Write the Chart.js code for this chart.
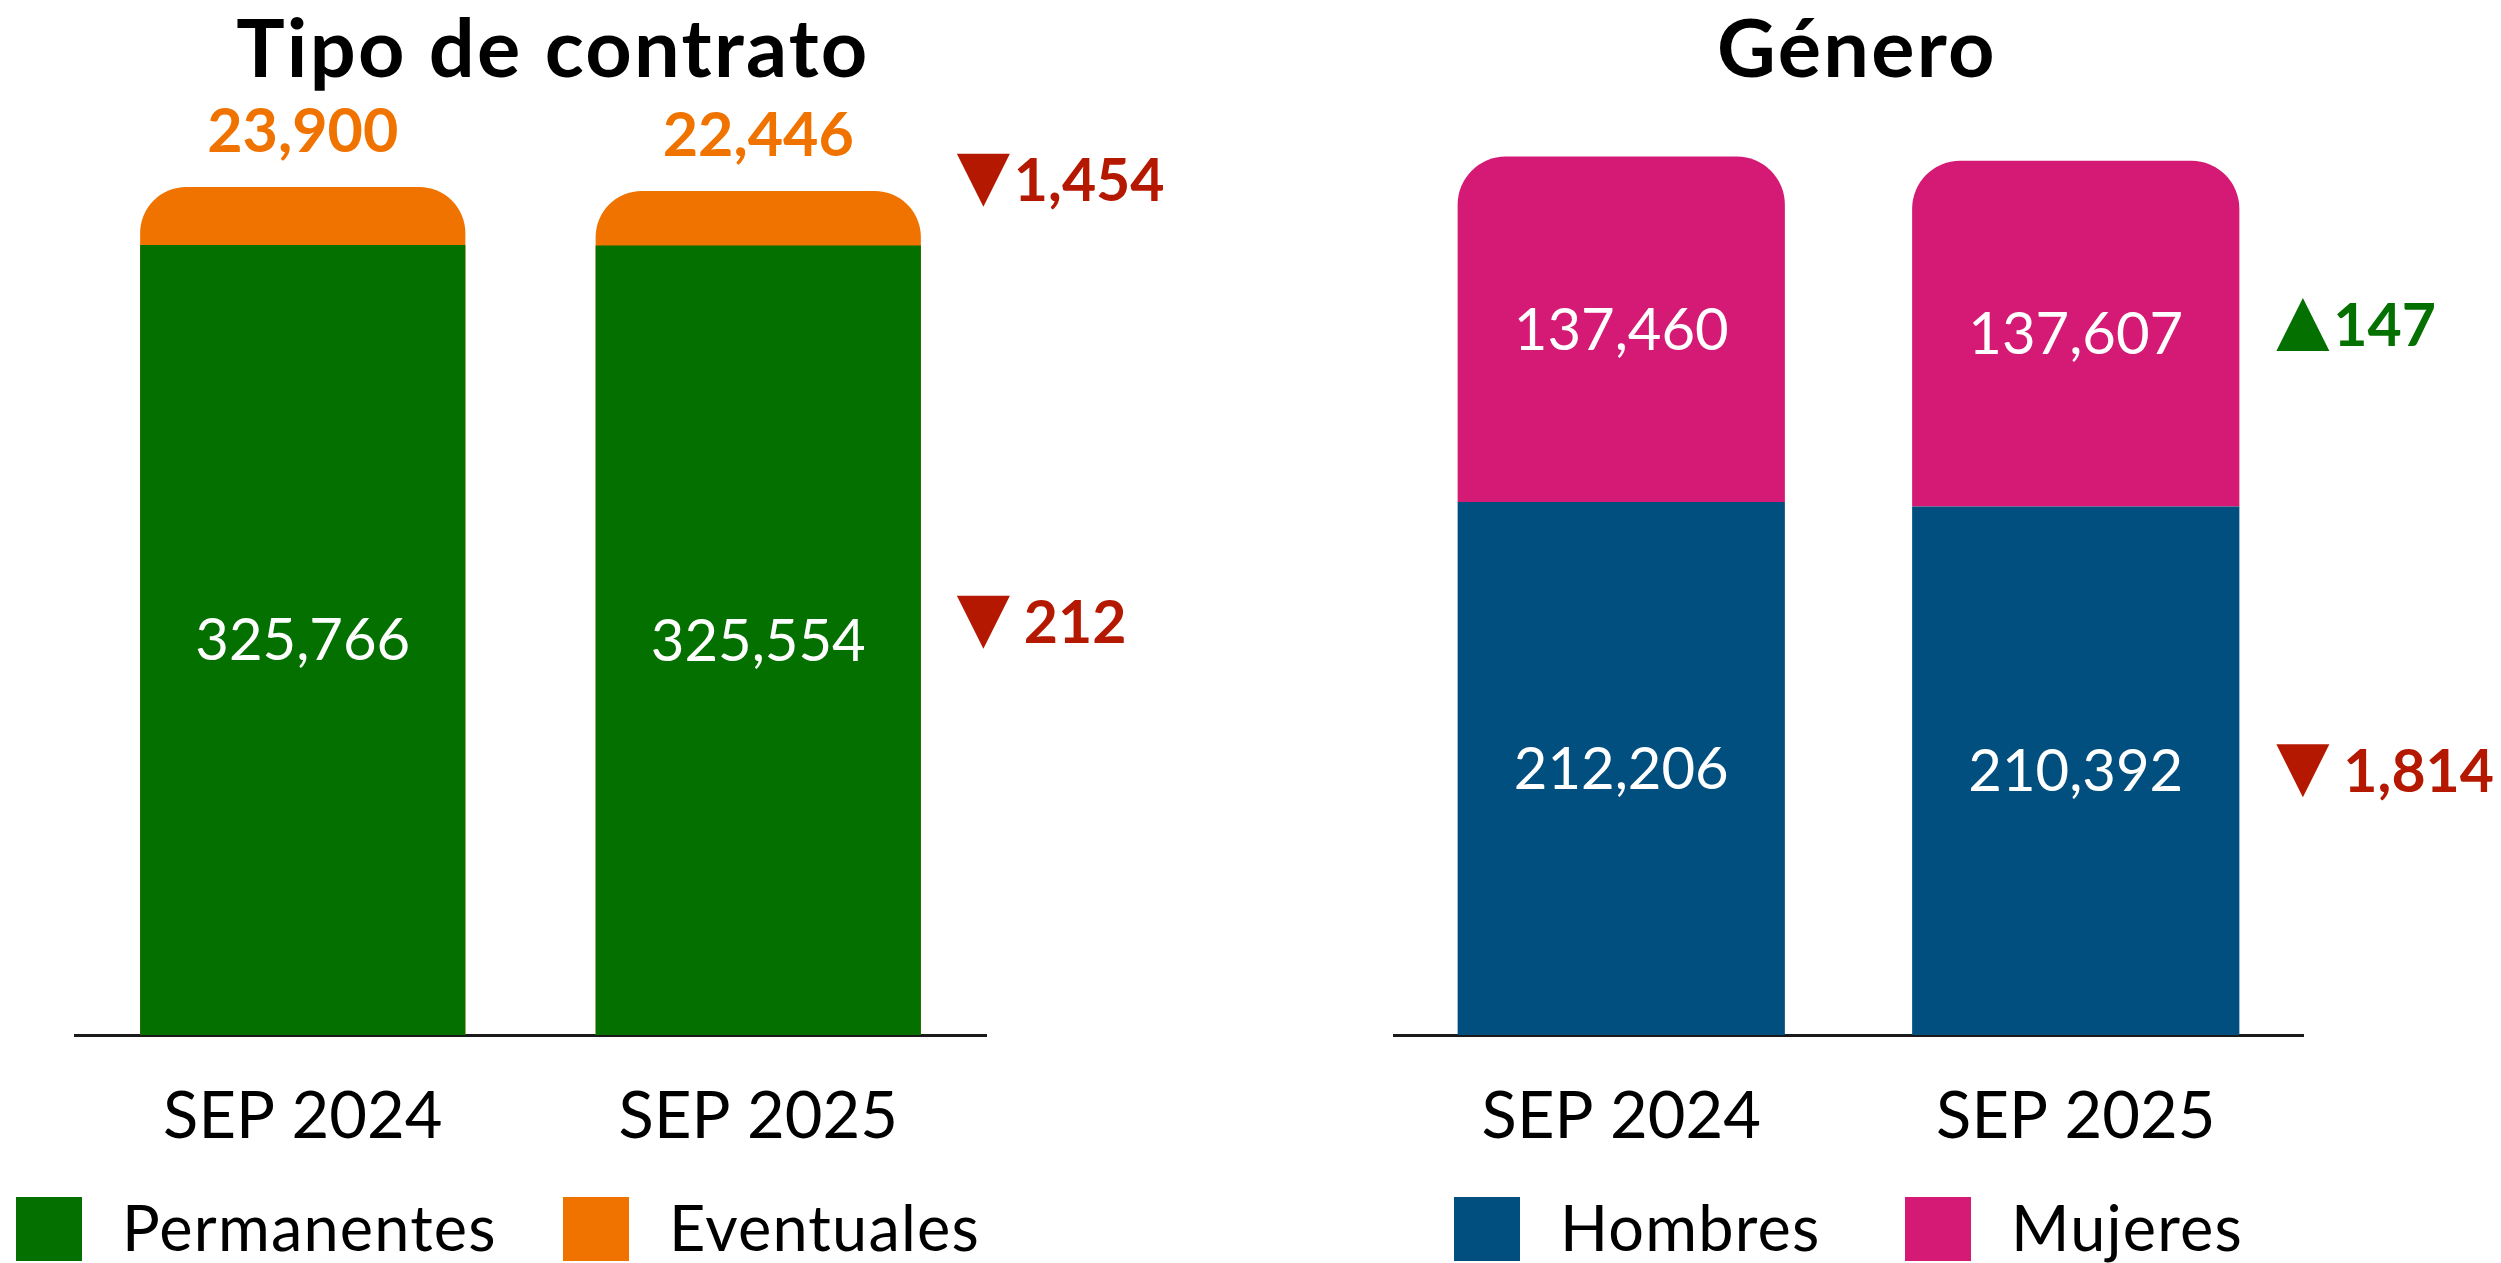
<!DOCTYPE html>
<html>
<head>
<meta charset="utf-8">
<script src="https://cdn.jsdelivr.net/npm/chart.js@4.4.1/dist/chart.umd.min.js"></script>
<style>
html,body{margin:0;padding:0;background:#fff;}
#wrap{position:relative;width:2501px;height:1263px;overflow:hidden;background:#fff;}
#wrap canvas{position:absolute;top:0;}
</style>
</head>
<body>
<div id="wrap">
<canvas id="c1" width="1250" height="1263" style="left:0;width:1250px;height:1263px"></canvas>
<canvas id="c2" width="1251" height="1263" style="left:1250px;width:1251px;height:1263px"></canvas>
</div>
<script>
// ---- data ----
const categories = ['SEP 2024', 'SEP 2025'];
const contractTitle = 'Tipo de contrato';
const genderTitle = 'Género';
const contractSeries = ['Permanentes', 'Eventuales'];
const genderSeries = ['Hombres', 'Mujeres'];
const permanentes = [325766, 325554];
const eventuales = [23900, 22446];
const hombres = [212206, 210392];
const mujeres = [137460, 137607];
const contractChanges = [-212, -1454];   // Permanentes, Eventuales
const genderChanges = [-1814, 147];      // Hombres, Mujeres
const contractAxisMax = 426800;
const genderAxisMax = 412000;

// ---- colours ----
const GREEN = '#037000', ORANGE = '#F07300', BLUE = '#004F7F', PINK = '#D41A74';
const DOWN = '#B51800', UP = '#037000';
const FONT = 'Lato, "Noto Sans", sans-serif';
const fmt = v => Math.abs(v).toLocaleString('en-US');

const annotate = {
  id: 'annotate',
  afterDraw(chart, args, o) {
    const ctx = chart.ctx;
    ctx.save();
    // title
    ctx.fillStyle = '#000';
    ctx.font = `bold ${o.titleSize}px ${FONT}`;
    ctx.textAlign = 'center';
    ctx.textBaseline = 'alphabetic';
    if ('letterSpacing' in ctx) ctx.letterSpacing = o.titleSpacing + 'px';
    ctx.fillText(o.title, o.titleX, o.titleY);
    if ('letterSpacing' in ctx) ctx.letterSpacing = '0px';

    // segments (bottom to top)
    const n = chart.data.labels.length;
    for (let j = 0; j < n; j++) {
      let prevTop = null;
      o.series.forEach((vals, k) => {
        const el = chart.getDatasetMeta(k).data[j];
        const top = el.y;
        const bottom = prevTop === null ? el.base : prevTop;
        prevTop = top;
        const mid = (top + bottom) / 2;
        const st = o.labelStyles[k];
        ctx.textAlign = 'center';
        ctx.textBaseline = 'alphabetic';
        ctx.font = `${st.weight} ${st.size}px ${FONT}`;
        ctx.fillStyle = st.color;
        if (st.pos === 'inside') {
          ctx.fillText(fmt(vals[j]), el.x, mid + st.size * 0.35);
        } else {
          ctx.fillText(fmt(vals[j]), el.x, top - st.gap);
        }
        // change markers next to last bar
        if (j === n - 1) {
          const d = o.changes[k];
          const cy = mid + o.changeOffsets[k];
          const tx = el.x + el.width / 2 + o.triGap;
          const w = o.triW, h = o.triH;
          const col = d < 0 ? DOWN : UP;
          ctx.fillStyle = col;
          ctx.beginPath();
          if (d < 0) {
            ctx.moveTo(tx, cy - h / 2); ctx.lineTo(tx + w, cy - h / 2); ctx.lineTo(tx + w / 2, cy + h / 2);
          } else {
            ctx.moveTo(tx + w / 2, cy - h / 2); ctx.lineTo(tx + w, cy + h / 2); ctx.lineTo(tx, cy + h / 2);
          }
          ctx.closePath();
          ctx.fill();
          ctx.font = `bold ${o.changeSize}px ${FONT}`;
          ctx.textAlign = 'left';
          ctx.fillText(fmt(d), tx + w + o.changeTextGaps[k], cy + o.changeSize * 0.355);
        }
      });
    }

    // legend
    ctx.textAlign = 'left';
    ctx.textBaseline = 'alphabetic';
    ctx.font = `${o.legendSize}px ${FONT}`;
    if ('letterSpacing' in ctx) ctx.letterSpacing = o.legendSpacing + 'px';
    o.legendNames.forEach((name, i) => {
      const x = o.legendX[i];
      ctx.fillStyle = chart.data.datasets[i].backgroundColor;
      ctx.fillRect(x, o.legendBoxY, o.legendBox, o.legendBoxH);
      ctx.fillStyle = '#000';
      ctx.fillText(name, x + o.legendBox + o.legendTextGap, o.legendBaseline);
    });
    if ('letterSpacing' in ctx) ctx.letterSpacing = '0px';
    ctx.restore();
  }
};

function baseOptions(padL, padR, yMax, barPct, ann) {
  return {
    responsive: false,
    animation: false,
    devicePixelRatio: 1,
    layout: { padding: { left: padL, right: padR, top: 0, bottom: 0 } },
    plugins: { legend: { display: false }, tooltip: { enabled: false }, annotate: ann },
    datasets: { bar: { barPercentage: barPct, categoryPercentage: 1 } },
    scales: {
      x: {
        stacked: true,
        grid: { display: false, drawTicks: false },
        border: { display: true, color: '#1a1a1a', width: 3 },
        ticks: { color: '#000', font: { family: FONT, size: 65 }, padding: 43, maxRotation: 0, autoSkip: false },
        afterFit(scale) { scale.height = 228; }
      },
      y: { display: false, stacked: true, min: 0, max: yMax }
    }
  };
}

// ---- Tipo de contrato ----
const contractTotals = permanentes.map((v, i) => v + eventuales[i]);
new Chart(document.getElementById('c1'), {
  type: 'bar',
  plugins: [annotate],
  data: {
    labels: categories,
    datasets: [
      { label: contractSeries[0], data: permanentes, backgroundColor: GREEN, borderWidth: 0, grouped: false },
      { label: contractSeries[1], data: contractTotals, backgroundColor: ORANGE, borderWidth: 0, grouped: false,
        borderRadius: { topLeft: 46, topRight: 46, bottomLeft: 0, bottomRight: 0 }, borderSkipped: 'bottom' }
    ]
  },
  options: (() => {
    const opt = baseOptions(75, 264, contractAxisMax, 0.714, {
      title: contractTitle, titleX: 553, titleY: 77, titleSize: 81, titleSpacing: 2.3,
      series: [permanentes, eventuales],
      labelStyles: [
        { pos: 'inside', color: '#fff', size: 58, weight: 'normal' },
        { pos: 'above', color: ORANGE, size: 61, weight: 'bold', gap: 35 }
      ],
      changes: contractChanges, changeOffsets: [-18, -38], changeTextGaps: [14, 4],
      triGap: 36, triW: 53, triH: 53, changeSize: 59,
      legendNames: contractSeries, legendX: [16, 563], legendBoxY: 1197, legendBox: 66, legendBoxH: 64,
      legendTextGap: 40, legendSize: 63, legendSpacing: 1.2, legendBaseline: 1251
    });
    opt.scales.y.stacked = false;
    return opt;
  })()
});

// ---- Género ----
new Chart(document.getElementById('c2'), {
  type: 'bar',
  plugins: [annotate],
  data: {
    labels: categories,
    datasets: [
      { label: genderSeries[0], data: hombres, backgroundColor: BLUE, borderWidth: 0 },
      { label: genderSeries[1], data: mujeres, backgroundColor: PINK, borderWidth: 0,
        borderRadius: { topLeft: 48, topRight: 48, bottomLeft: 0, bottomRight: 0 }, borderSkipped: 'bottom' }
    ]
  },
  options: baseOptions(144, 198, genderAxisMax, 0.72, {
    title: genderTitle, titleX: 607, titleY: 77, titleSize: 81, titleSpacing: 2.3,
    series: [hombres, mujeres],
    labelStyles: [
      { pos: 'inside', color: '#fff', size: 58, weight: 'normal' },
      { pos: 'inside', color: '#fff', size: 58, weight: 'normal' }
    ],
    changes: genderChanges, changeOffsets: [0, -9], changeTextGaps: [14, 4],
    triGap: 37, triW: 53, triH: 53, changeSize: 59,
    legendNames: genderSeries, legendX: [204, 655], legendBoxY: 1197, legendBox: 66, legendBoxH: 64,
    legendTextGap: 40, legendSize: 63, legendSpacing: 1.2, legendBaseline: 1251
  })
});
</script>
</body>
</html>
